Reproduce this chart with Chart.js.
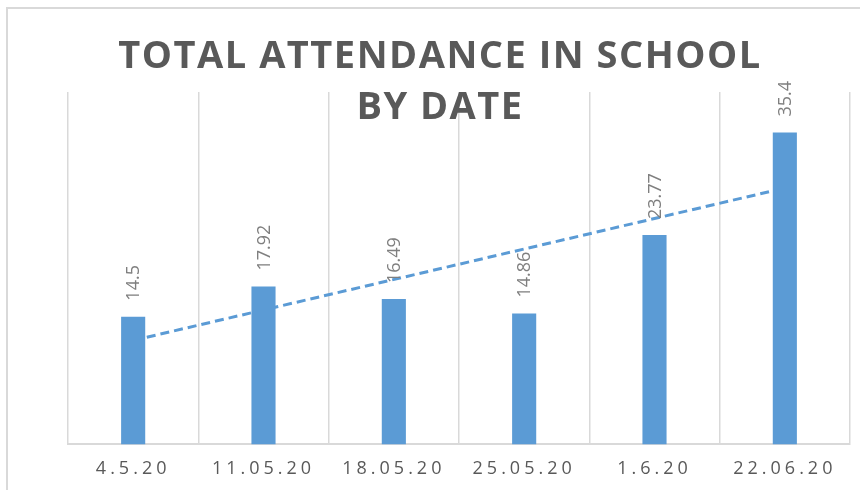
<!DOCTYPE html>
<html>
<head>
<meta charset="utf-8">
<script src="https://cdn.jsdelivr.net/npm/chart.js@4.4.1/dist/chart.umd.min.js"></script>
<style>
  html, body { margin: 0; padding: 0; background: #fff; }
  #wrap { width: 860px; height: 490px; }
</style>
</head>
<body>
<div id="wrap"><canvas id="attendanceChart" width="860" height="490"></canvas></div>
<script>
const dates = ['4.5.20', '11.05.20', '18.05.20', '25.05.20', '1.6.20', '22.06.20'];
const attendance = [14.5, 17.92, 16.49, 14.86, 23.77, 35.4];
// linear trendline, end points
const trend = [11.8, null, null, null, null, 29.1];
const titleLines = ['TOTAL ATTENDANCE IN SCHOOL', 'BY DATE'];

const blue = '#5b9bd5';

const frame = {
    id: 'frame',
    beforeDraw(chart) {
        const ctx = chart.ctx;
        ctx.save();
        ctx.strokeStyle = '#d9d9d9';
        ctx.lineWidth = 2;
        ctx.strokeRect(7, 8, 900, 600);
        ctx.restore();
        ctx.letterSpacing = '4px';
    }
};

const valueLabels = {
    id: 'valueLabels',
    afterDatasetsDraw(chart) {
        const ctx = chart.ctx;
        const meta = chart.getDatasetMeta(1);
        ctx.save();
        ctx.letterSpacing = '0px';
        ctx.font = '18px "Open Sans"';
        ctx.fillStyle = '#7f7f7f';
        ctx.textAlign = 'left';
        ctx.textBaseline = 'middle';
        meta.data.forEach((bar, i) => {
            ctx.save();
            ctx.translate(bar.x + 1, bar.y - 16);
            ctx.rotate(-Math.PI / 2);
            ctx.fillText(String(attendance[i]), 0, 0);
            ctx.restore();
        });
        ctx.restore();
    },
    afterDraw(chart) {
        const ctx = chart.ctx;
        ctx.save();
        ctx.letterSpacing = '1.5px';
        ctx.font = 'bold 38px "Open Sans"';
        ctx.fillStyle = '#595959';
        ctx.textAlign = 'center';
        ctx.textBaseline = 'middle';
        ctx.fillText(titleLines[0], 440, 57);
        ctx.fillText(titleLines[1], 440, 108);
        ctx.restore();
    }
};

new Chart(document.getElementById('attendanceChart'), {
    type: 'bar',
    data: {
        labels: dates,
        datasets: [{
            type: 'line',
            data: trend,
            borderColor: blue,
            borderWidth: 3,
            borderDash: [9, 5],
            pointRadius: 0,
            spanGaps: true,
            fill: false,
            order: 2,
        }, {
            data: attendance,
            backgroundColor: blue,
            categoryPercentage: 1,
            barPercentage: 0.185,
            order: 1,
        }]
    },
    options: {
        responsive: false,
        animation: false,
        layout: {
            padding: { left: 68, right: 10, top: 92, bottom: -4 }
        },
        plugins: {
            legend: { display: false },
            title: { display: false },
            tooltip: { enabled: false },
        },
        scales: {
            x: {
                grid: {
                    color: '#d9d9d9',
                    lineWidth: 1.5,
                    drawTicks: false,
                },
                border: { color: '#d9d9d9', width: 2 },
                ticks: {
                    color: '#595959',
                    font: { family: '"Open Sans"', size: 18 },
                    padding: 14,
                    maxRotation: 0,
                    autoSkip: false,
                },
            },
            y: {
                display: false,
                min: 0,
                max: 40,
            },
        },
    },
    plugins: [frame, valueLabels],
});
</script>
</body>
</html>
